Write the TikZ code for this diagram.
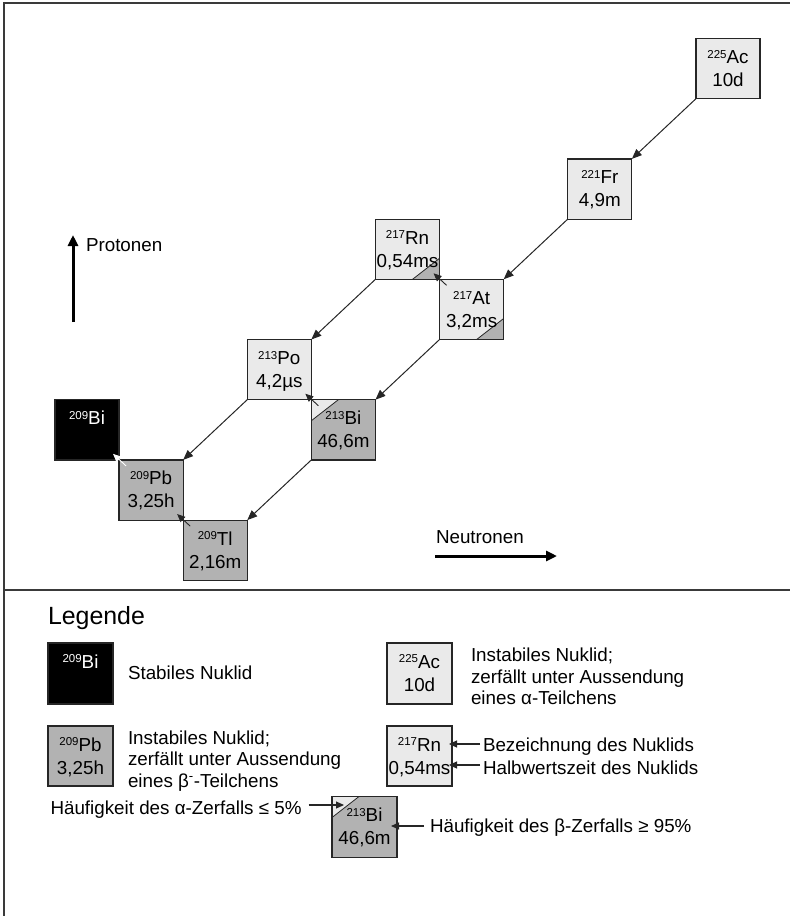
\documentclass[tikz,border=0pt]{standalone}
\usepackage{fontspec}
\setmainfont{Liberation Sans}
\usetikzlibrary{arrows.meta,calc}
\definecolor{lightfill}{HTML}{EAEAEA}
\definecolor{darkfill}{HTML}{B2B2B2}
\definecolor{edgecol}{HTML}{262626}
\definecolor{framecol}{HTML}{3A3A3A}
\newcommand\sups[1]{\raisebox{5.3pt}{\fontsize{11.5}{12}\selectfont #1}}
\newcommand\txt{\fontsize{18.8}{22}\selectfont}
% two-line label inside a nuclide box
\newcommand\nuclabel[4]{%
  \node[lbl, text=#4] (#1-a) at ([yshift=-25pt]#1.north) {#2};
  \node[lbl, text=#4] (#1-b) at ([yshift=-48pt]#1.north) {#3};}
\newcommand\nuclabelone[3]{%
  \node[lbl, text=#3] (#1-a) at ([yshift=-25pt]#1.north) {#2};}
% dark triangle bottom right
\newcommand\cornerbr[1]{%
  \fill[darkfill] (#1.south east) -- ++(-27,0) -- ++(27,-21) -- cycle;
  \draw[edgecol, line width=0.8pt] ([xshift=-27pt]#1.south east) -- ([yshift=21pt]#1.south east);
  \draw[edgecol, line width=1.2pt] (#1.north west) rectangle (#1.south east);}
% light triangle top left
\newcommand\cornertl[1]{%
  \fill[lightfill] (#1.north west) -- ++(27,0) -- ++(-27,21) -- cycle;
  \draw[edgecol, line width=0.8pt] ([xshift=27pt]#1.north west) -- ([yshift=-21pt]#1.north west);
  \draw[edgecol, line width=1.2pt] (#1.north west) rectangle (#1.south east);}
\begin{document}
\begin{tikzpicture}[x=1pt, y=-1pt, font=\txt,
  nucbox/.style={draw=edgecol, line width=1.2pt, minimum width=64.1pt, minimum height=60.2pt, inner sep=0pt, outer sep=0pt},
  legbox/.style={draw=edgecol, line width=1.2pt, minimum width=65pt, minimum height=61pt, inner sep=0pt, outer sep=0pt},
  light/.style={nucbox, fill=lightfill},
  dark/.style={nucbox, fill=darkfill},
  stable/.style={nucbox, fill=black},
  lbl/.style={anchor=base, inner sep=0pt, outer sep=0pt},
  txtl/.style={anchor=base west, inner sep=0pt, outer sep=0pt},
  alphaarr/.style={-{Triangle[length=10pt,width=8pt]}, line width=1pt, edgecol},
  betaarr/.style={-{Triangle[length=8pt,width=7pt]}, line width=0.9pt, edgecol},
  legarr/.style={-{Triangle[length=8pt,width=7pt]}, line width=1.1pt, edgecol},
  axisarr/.style={-{Triangle[length=11pt,width=10pt]}, line width=3pt, black},
  frameline/.style={framecol, line width=1.6pt}]
\useasboundingbox (0,0) rectangle (790,916);

% frame
\coordinate (ftl) at (4,3);
\coordinate (ftr) at (790,3);
\coordinate (fbl) at (4,916);
\coordinate (fml) at (4,590);
\coordinate (fmr) at (790,590);
\draw[frameline] (ftr) -- (ftl) -- (fbl);
\draw[frameline] (fml) -- (fmr);

% nuclide boxes
\node[light]  (ac)  at (728,68.6)    {};
\node[light]  (fr)  at (599.8,189)   {};
\node[light]  (rn)  at (407.5,249.2) {};
\node[light]  (at)  at (471.6,309.4) {};
\node[light]  (po)  at (279.3,369.6) {};
\node[dark]   (bia) at (343.4,429.8) {};
\node[stable] (bib) at (87,429.8)    {};
\node[dark]   (pb)  at (151.1,490)   {};
\node[dark]   (tl)  at (215.2,550.2) {};

\cornerbr{rn}
\cornerbr{at}
\cornertl{bia}

\nuclabel{ac}{\sups{225}Ac}{10d}{black}
\nuclabel{fr}{\sups{221}Fr}{4,9m}{black}
\nuclabel{rn}{\sups{217}Rn}{0,54ms}{black}
\nuclabel{at}{\sups{217}At}{3,2ms}{black}
\nuclabel{po}{\sups{213}Po}{4,2µs}{black}
\nuclabel{bia}{\sups{213}Bi}{46,6m}{black}
\nuclabelone{bib}{\sups{209}Bi}{white}
\nuclabel{pb}{\sups{209}Pb}{3,25h}{black}
\nuclabel{tl}{\sups{209}Tl}{2,16m}{black}

% alpha decays
\draw[alphaarr] (ac.south west) -- (fr.north east);
\draw[alphaarr] (fr.south west) -- (at.north east);
\draw[alphaarr] (rn.south west) -- (po.north east);
\draw[alphaarr] (at.south west) -- (bia.north east);
\draw[alphaarr] (po.south west) -- (pb.north east);
\draw[alphaarr] (bia.south west) -- (tl.north east);

% beta decays
\draw[betaarr] ([shift={(7,6)}]at.north west) -- ([shift={(-6,-6)}]rn.south east);
\draw[betaarr] ([shift={(7,6)}]bia.north west) -- ([shift={(-6,-6)}]po.south east);
\draw[betaarr] ([shift={(7,6)}]tl.north west) -- ([shift={(-6,-6)}]pb.south east);
\draw[betaarr, white] ([shift={(7,6)}]pb.north west) -- ([shift={(-6,-6)}]bib.south east);

% axes
\coordinate (pbot) at (73,322);
\coordinate (ptop) at (73,235);
\draw[axisarr] (pbot) -- (ptop);
\node[txtl] (prot) at (86,251) {Protonen};
\coordinate (nleft) at (435,556);
\coordinate (nright) at (557,556);
\draw[axisarr] (nleft) -- (nright);
\node[txtl] (neut) at (436,543) {Neutronen};

% legend
\node[txtl, font=\fontsize{24.9}{28}\selectfont] (leg) at (48,624) {Legende};

\node[legbox, fill=black] (lbib) at (80.5,673.5) {};
\nuclabelone{lbib}{\sups{209}Bi}{white}
\node[txtl] (stab) at (128,679) {Stabiles Nuklid};

\node[legbox, fill=darkfill, minimum height=60pt] (lpb) at (80.5,756) {};
\nuclabel{lpb}{\sups{209}Pb}{3,25h}{black}
\node[txtl] (pbt1) at (128,744) {Instabiles Nuklid;};
\node[txtl] (pbt2) at (128,765.5) {zerfällt unter Aussendung};
\node[txtl] (pbt3) at (128,787) {eines β\textsuperscript{-}-Teilchens};

\node[legbox, fill=lightfill] (lac) at (419.5,673.5) {};
\nuclabel{lac}{\sups{225}Ac}{10d}{black}
\node[txtl] (act1) at (471,661) {Instabiles Nuklid;};
\node[txtl] (act2) at (471,683) {zerfällt unter Aussendung};
\node[txtl] (act3) at (471,704.5) {eines α-Teilchens};

\node[legbox, fill=lightfill, minimum height=60pt] (lrn) at (419.5,756) {};
\nuclabel{lrn}{\sups{217}Rn}{0,54ms}{black}
\node[txtl] (bez) at (483,751) {Bezeichnung des Nuklids};
\node[txtl] (hwz) at (483,774) {Halbwertszeit des Nuklids};
\draw[legarr] ([shift={(-3,-7)}]bez.base west) -- ([shift={(-3,-7)}]bez.base west -| lrn.east);
\draw[legarr] ([shift={(-3,-9)}]hwz.base west) -- ([shift={(-3,-9)}]hwz.base west -| lrn.east);

\node[legbox, fill=darkfill] (lbi) at (364.5,827) {};
\cornertl{lbi}
\nuclabel{lbi}{\sups{213}Bi}{46,6m}{black}
\node[txtl] (alph) at (50.5,814) {Häufigkeit des α-Zerfalls ≤ 5\%};
\node[txtl] (beta) at (430,832) {Häufigkeit des β-Zerfalls ≥ 95\%};
\draw[legarr, shorten >=-5pt] ([shift={(7,-9)}]alph.base east) -- ([shift={(7,-9)}]alph.base east -| lbi.west);
\draw[legarr] ([shift={(-6,-6)}]beta.base west) -- ([shift={(-6,-6)}]beta.base west -| lbi.east);
\end{tikzpicture}
\end{document}
